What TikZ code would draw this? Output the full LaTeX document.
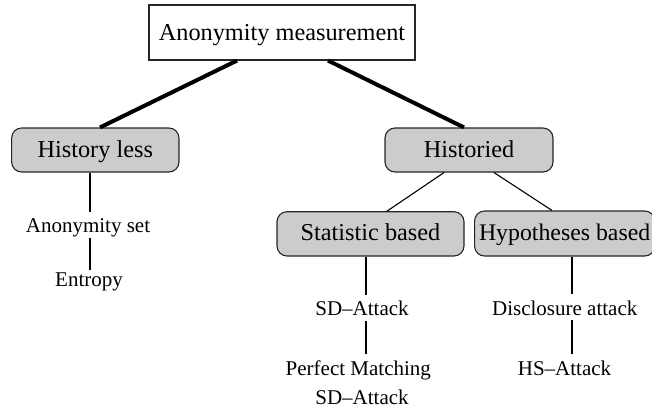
\documentclass[tikz,border=0pt]{standalone}
\usepackage{fontspec}
\setmainfont{Liberation Serif}
\begin{document}
\begin{tikzpicture}[x=1pt,y=-1pt,
  rootbox/.style={draw=black!85, line width=1.1pt, fill=white, inner sep=0pt,
    font=\fontsize{24.3}{28}\selectfont, anchor=base},
  catbox/.style={draw=black!85, line width=1.1pt, fill=black!20, rounded corners=10pt,
    inner sep=0pt, font=\fontsize{24.3}{28}\selectfont, anchor=base},
  leaf/.style={inner sep=0pt, font=\fontsize{21}{24}\selectfont, anchor=base,
    text height=21pt, text depth=5pt},
  thickline/.style={line width=4pt},
  thinline/.style={line width=1.1pt}]
\useasboundingbox (0,0) rectangle (652,408);
\clip (0,0) rectangle (652,408);
% boxes
\node[rootbox, minimum width=266pt, text height=35pt, text depth=20pt] (root) at (282,40) {Anonymity measurement};
\node[catbox, minimum width=167.3pt, text height=29.3pt, text depth=14.7pt] (hl) at (95.3,157.3) {History less};
\node[catbox, minimum width=168pt, text height=29.3pt, text depth=14.7pt] (hd) at (469,157.3) {Historied};
\node[catbox, minimum width=187pt, text height=29pt, text depth=15.3pt] (sb) at (370.5,240.7) {Statistic based};
\node[catbox, anchor=base west, inner xsep=4.5pt, font=\fontsize{23.8}{28}\selectfont, text height=29.7pt, text depth=15.3pt] (hb) at (474,240.7) {Hypotheses based\hspace{16pt}};
% leaves
\node[leaf] (aset) at (88,232.7) {Anonymity set};
\node[leaf, text height=16.7pt] (ent) at (89,286.7) {Entropy};
\node[leaf, text height=20pt, text depth=5.7pt] (sd1) at (362,315) {SD–Attack};
\node[leaf] (pm) at (358.3,375) {Perfect Matching};
\node[leaf, anchor=base, text height=15pt] (sd2) at (362,404) {SD–Attack};
\node[leaf] (disc) at (564.7,315) {Disclosure attack};
\node[leaf] (hs) at (564.5,375) {HS–Attack};
% connectors
\draw[thickline] ([xshift=-45pt]root.south) -- ([xshift=4.7pt]hl.north);
\draw[thickline] ([xshift=46pt]root.south) -- ([xshift=-5pt]hd.north);
\draw[thinline] ([xshift=-25pt]hd.south) -- ([xshift=16.5pt]sb.north);
\draw[thinline] ([xshift=25pt]hd.south) -- ([xshift=78pt]hb.north west);
\draw[thinline] ([xshift=-5.3pt]hl.south) -- ([xshift=2pt]aset.north);
\draw[thinline] ([xshift=2pt]aset.south) -- ([xshift=1pt]ent.north);
\draw[thinline] ([xshift=-4.5pt]sb.south) -- ([xshift=4pt]sd1.north);
\draw[thinline] ([xshift=4pt]sd1.south) -- ([xshift=7.7pt]pm.north);
\draw[thinline] ([xshift=98pt]hb.south west) -- ([xshift=7.3pt]disc.north);
\draw[thinline] ([xshift=7.3pt]disc.south) -- ([xshift=7.5pt]hs.north);
\end{tikzpicture}
\end{document}
